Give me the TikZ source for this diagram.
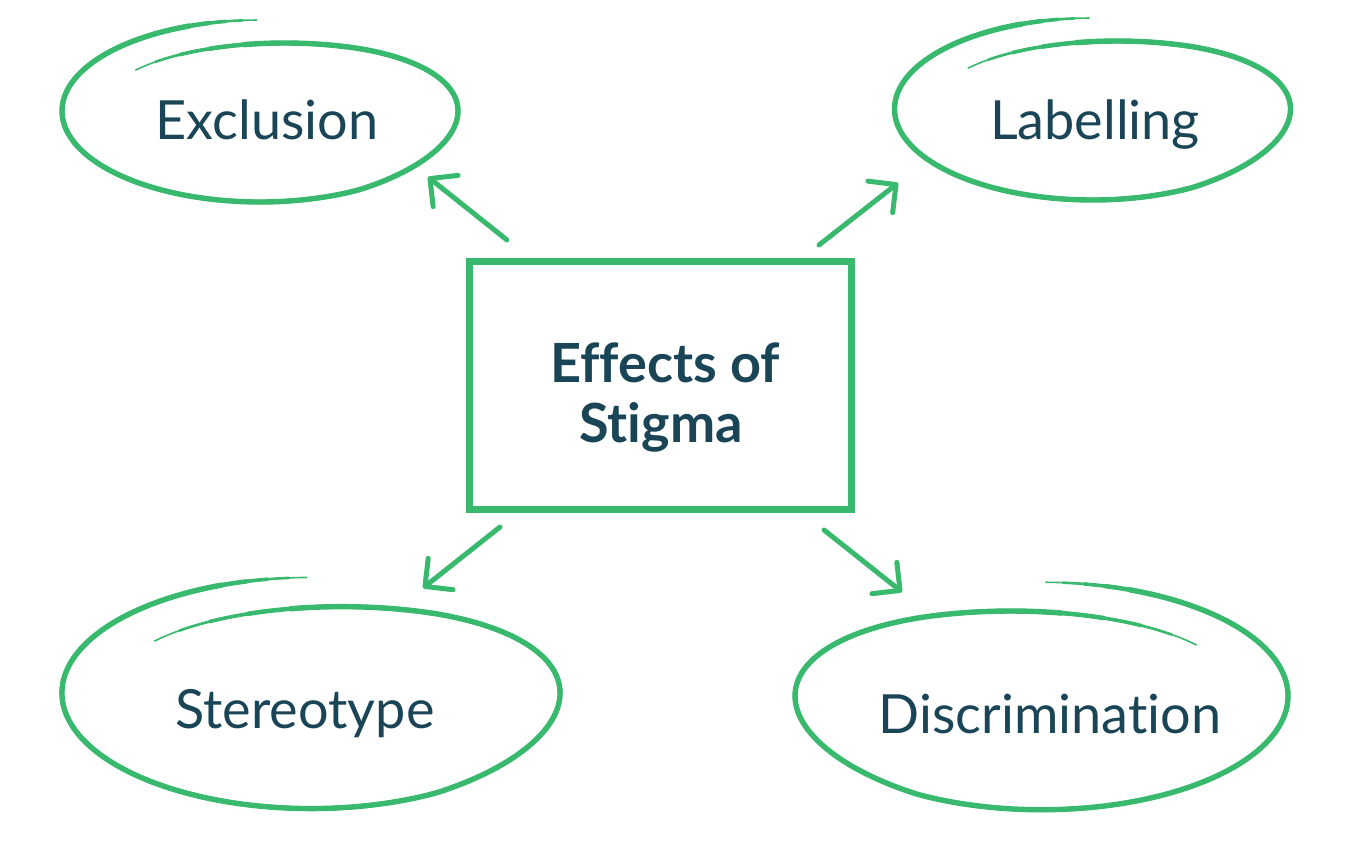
\documentclass[tikz,border=0pt]{standalone}
\usepackage{fontspec}
\setmainfont{Lato}[Ligatures=NoCommon]
\usetikzlibrary{arrows.meta}
\definecolor{accent}{HTML}{38B96E}
\definecolor{ink}{HTML}{1A4556}
\tikzset{
  loopline/.style={draw=accent, line cap=round, line join=round},
  label/.style={text=ink, inner sep=0pt, anchor=base, font=\fontsize{54}{60}\selectfont},
  title/.style={text=ink, inner sep=0pt, anchor=base, font=\fontsize{54}{60}\selectfont\bfseries},
  centerbox/.style={draw=accent, line width=7pt, minimum width=382pt, minimum height=248pt, inner sep=0pt},
  pointer/.style={draw=accent, line width=5pt, line cap=round, -{Straight Barb[length=20pt,width=40pt,round]}}
}
% hand-drawn spiral loop: centre x, centre y, x scale, y scale
\newcommand\handloop[4]{%
  \foreach \ds/\de/\lw in {0/0/1.6, 4/10/2.6, 9/20/3.6, 14/31/4.5, 20/42/5.4}{
    \draw[loopline, line width=\lw pt] plot[variable=\t, domain=91+\ds:497-\de, samples=150, smooth]
      ({#1+(#3)*(198-28*max(0,\t-420)/77)*cos(\t)}, {#2-(#4)*(91-31*max(0,\t-300)/197)*sin(\t)});
  }}
\begin{document}
\begin{tikzpicture}[x=1pt,y=-1pt]
\useasboundingbox (0,0) rectangle (1365,841);

% central box
\node[centerbox] (box) at (660.5,385.5) {};
\node[title] (t1) at (665,382) {Effects of};
\node[title] (t2) at (661,442) {Stigma};

% labels
\node[label] (excl) at (267,139) {Exclusion};
\node[label] (lab) at (1095,139) {Labelling};
\node[label] (ster) at (305,728) {Stereotype};
\node[label] (disc) at (1050,733) {Discrimination};

% loops
\handloop{260}{111}{1}{1}
\handloop{1092.5}{109}{1}{1}
\handloop{311}{693}{1.258}{1.27}
\handloop{1041.5}{696}{-1.245}{1.25}

% connector end points
\coordinate (a1s) at (507,240); \coordinate (a1e) at (428,177);
\coordinate (a2s) at (819,245); \coordinate (a2e) at (898,183);
\coordinate (a3s) at (500,527); \coordinate (a3e) at (423,588);
\coordinate (a4s) at (824,530); \coordinate (a4e) at (902,592);
\draw[pointer] (a1s) -- (a1e);
\draw[pointer] (a2s) -- (a2e);
\draw[pointer] (a3s) -- (a3e);
\draw[pointer] (a4s) -- (a4e);
\end{tikzpicture}
\end{document}
